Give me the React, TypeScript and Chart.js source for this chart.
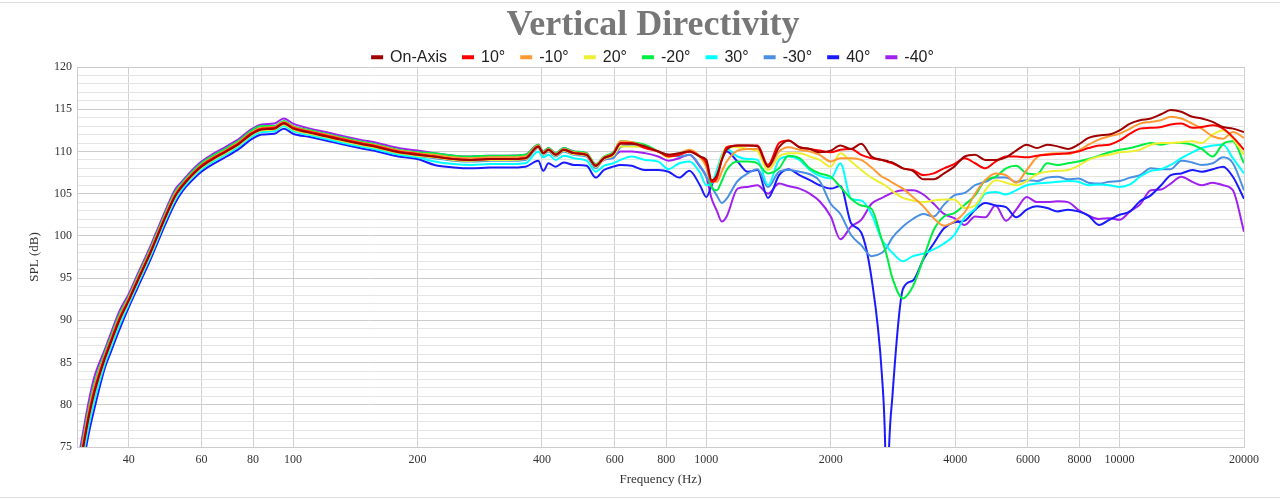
import React, { useEffect, useRef } from "react";
import { Chart, registerables } from "chart.js";

Chart.register(...registerables);

// Frequency grid (Hz)
const freqLow = [
  30, 31, 32, 33, 35, 36, 38, 40, 42, 45, 47, 49, 52, 54, 56, 60, 64, 69, 74, 79,
  84, 90, 95, 100, 110, 120, 130, 145, 160, 180, 200, 220, 245, 270, 300, 330, 365, 392, 403, 415,
  432, 452, 478, 513, 540, 565, 595, 620, 660, 710, 765, 810, 860, 910, 965,
];
const freqHigh = [
  1000, 1030, 1060, 1090, 1120, 1190, 1260, 1330, 1410, 1500,
  1580, 1680, 1780, 1880, 2000, 2110, 2240, 2370, 2510, 2660,
  2710, 2735, 2760, 2820, 2990, 3160, 3350, 3550, 3760, 3980,
  4220, 4470, 4730, 5010, 5310, 5620, 5960, 6310, 6680, 7080,
  7500, 7940, 8410, 8910, 9440, 10000, 10600, 11200, 11900, 12600,
  13300, 14100, 15000, 15800, 16800, 17800, 18800, 20000,
];

// SPL values (dB)
const onAxisLow = [
  70.8, 74.7, 78.4, 81.3, 85.4, 87.0, 90.0, 92.3, 94.6, 97.8,
  100.0, 102.1, 104.8, 105.9, 106.8, 108.2, 109.1, 110.0, 110.9, 112.0,
  112.6, 112.7, 113.3, 112.7, 112.2, 111.8, 111.4, 110.9, 110.5, 109.9,
  109.6, 109.4, 109.1, 109.0, 109.1, 109.1, 109.2, 110.6, 109.8, 110.2,
  109.6, 110.2, 109.8, 109.6, 108.3, 109.2, 109.7, 110.9, 110.9, 110.6,
  110.0, 109.6, 109.8, 110.0, 109.4,
];
const onAxisHigh = [
  109.0, 106.6, 107.2, 109.0, 110.2, 110.7, 110.7, 110.6, 108.2, 110.5,
  111.3, 110.5, 110.3, 109.9, 110.1, 110.7, 110.3, 110.9, 109.4, 109.0,
  108.9, 108.9, 108.8, 108.7, 108.0, 107.7, 106.7, 106.7, 107.4, 108.2,
  109.4, 109.6, 109.0, 109.0, 109.3, 110.1, 110.8, 110.4, 110.8, 110.6,
  110.3, 110.8, 111.6, 111.9, 112.0, 112.5, 113.3, 113.7, 113.9, 114.4,
  114.9, 114.7, 114.1, 113.9, 113.5, 112.9, 112.7, 112.3,
];

const p10Low = [
  71.1, 75.0, 78.7, 81.6, 85.6, 87.2, 90.2, 92.4, 94.7, 97.9,
  100.1, 102.2, 104.9, 106.0, 106.9, 108.3, 109.2, 110.1, 111.0, 112.1,
  112.7, 112.8, 113.4, 112.8, 112.3, 111.9, 111.5, 111.0, 110.6, 110.0,
  109.7, 109.4, 109.1, 109.0, 109.1, 109.1, 109.2, 110.6, 109.8, 110.2,
  109.6, 110.2, 109.8, 109.6, 108.3, 109.2, 109.7, 111.0, 111.0, 110.4,
  110.0, 109.4, 109.6, 110.0, 109.4,
];
const p10High = [
  108.6, 106.4, 106.8, 109.0, 110.5, 110.7, 110.7, 110.7, 108.4, 111.0,
  111.3, 110.5, 110.3, 110.1, 109.9, 110.2, 110.3, 109.6, 109.2, 109.0,
  108.9, 108.8, 108.7, 108.6, 108.0, 107.8, 107.2, 107.4, 108.0, 108.5,
  109.2, 108.6, 108.0, 108.8, 109.4, 109.4, 109.3, 109.5, 109.6, 109.7,
  109.8, 110.0, 110.4, 110.7, 110.8, 111.3, 112.1, 112.7, 112.8, 112.9,
  113.2, 113.3, 112.8, 112.9, 113.1, 112.7, 111.7, 110.2,
];

const m10Low = [
  71.5, 75.4, 79.1, 82.0, 85.8, 87.4, 90.4, 92.6, 94.9, 98.1,
  100.3, 102.4, 105.1, 106.1, 107.0, 108.4, 109.3, 110.2, 111.1, 112.2,
  112.8, 112.9, 113.5, 112.9, 112.4, 112.0, 111.6, 111.1, 110.7, 110.1,
  109.8, 109.6, 109.3, 109.2, 109.3, 109.3, 109.4, 110.7, 109.9, 110.3,
  109.7, 110.3, 109.9, 109.7, 108.4, 109.3, 109.8, 111.2, 111.1, 110.6,
  110.0, 109.6, 109.8, 110.2, 109.4,
];
const m10High = [
  108.2, 106.4, 106.4, 107.6, 108.8, 110.1, 110.3, 110.3, 108.1, 110.0,
  110.5, 110.2, 110.0, 109.6, 108.8, 109.2, 109.2, 109.0, 108.1, 107.0,
  106.8, 106.7, 106.6, 106.3, 105.6, 104.6, 103.5, 102.1, 101.2, 101.7,
  102.8, 105.0, 106.6, 107.4, 107.2, 106.3, 107.8, 109.3, 109.7, 109.8,
  109.7, 110.1, 110.8, 111.4, 111.8, 112.1, 112.7, 113.3, 113.5, 113.7,
  114.1, 113.9, 113.3, 112.7, 111.8, 111.5, 112.3, 111.6,
];

const p20Low = [
  70.7, 74.6, 78.3, 81.2, 85.3, 86.9, 89.9, 92.2, 94.5, 97.7,
  99.9, 102.0, 104.7, 105.9, 106.7, 108.1, 109.0, 109.9, 110.8, 111.9,
  112.5, 112.6, 113.2, 112.6, 112.1, 111.7, 111.3, 110.8, 110.4, 109.8,
  109.5, 109.3, 109.0, 108.9, 109.0, 109.0, 109.1, 110.5, 109.7, 110.1,
  109.5, 110.1, 109.7, 109.5, 108.2, 109.1, 109.5, 110.6, 110.6, 110.5,
  110.0, 109.3, 109.8, 110.0, 109.3,
];
const p20High = [
  108.2, 106.6, 107.2, 109.4, 110.5, 110.5, 110.3, 110.0, 107.8, 109.4,
  109.8, 109.8, 109.4, 109.0, 108.2, 109.8, 108.8, 107.8, 106.9, 106.2,
  106.0, 105.8, 105.7, 105.3, 104.5, 104.2, 104.0, 104.2, 104.3, 104.3,
  103.3, 103.6, 105.4, 106.6, 106.3, 106.0, 106.5, 107.3, 107.6, 107.7,
  107.8, 108.3, 109.0, 109.4, 109.6, 109.9, 110.0, 110.2, 110.8, 111.0,
  111.0, 111.1, 111.2, 111.0, 112.0, 112.5, 111.5, 109.6,
];

const m20Low = [
  71.9, 75.8, 79.5, 82.4, 86.1, 87.7, 90.7, 92.8, 95.1, 98.3,
  100.5, 102.6, 105.3, 106.3, 107.2, 108.6, 109.5, 110.4, 111.3, 112.4,
  113.0, 113.0, 113.6, 113.0, 112.5, 112.1, 111.7, 111.2, 110.8, 110.2,
  109.9, 109.8, 109.5, 109.4, 109.5, 109.5, 109.6, 110.8, 110.0, 110.4,
  109.8, 110.4, 110.0, 109.8, 108.5, 109.4, 109.9, 111.2, 111.1, 110.8,
  110.0, 109.4, 109.8, 110.0, 109.4,
];
const m20High = [
  108.2, 105.8, 105.4, 106.5, 107.8, 108.8, 108.8, 108.6, 107.4, 108.0,
  109.5, 109.2, 108.0, 107.4, 107.0, 105.8, 104.4, 103.6, 103.2, 99.5,
  98.3, 97.6, 96.8, 95.0, 92.6, 94.0, 97.3, 100.7, 102.3, 102.7,
  103.7, 104.8, 106.6, 107.0, 108.0, 108.3, 107.4, 107.3, 108.6, 108.4,
  108.6, 108.8, 109.1, 109.5, 109.9, 110.2, 110.4, 110.7, 111.0, 110.8,
  111.0, 111.0, 110.8, 110.3, 109.4, 110.9, 111.2, 108.6,
];

const p30Low = [
  69.8, 73.7, 77.4, 80.3, 84.8, 86.4, 89.4, 91.9, 94.2, 97.4,
  99.6, 101.7, 104.4, 105.6, 106.5, 107.9, 108.8, 109.7, 110.6, 111.7,
  112.3, 112.4, 113.0, 112.4, 111.9, 111.5, 111.1, 110.6, 110.2, 109.6,
  109.3, 108.8, 108.5, 108.4, 108.5, 108.5, 108.6, 110.0, 109.3, 109.6,
  109.0, 109.5, 109.2, 108.9, 107.6, 108.3, 108.6, 109.0, 109.4, 109.0,
  108.8, 107.9, 108.6, 108.8, 107.5,
];
const p30High = [
  106.0, 106.2, 107.8, 109.6, 110.3, 109.4, 109.1, 109.0, 106.0, 109.0,
  109.4, 109.0, 107.8, 107.1, 106.8, 108.6, 104.4, 104.2, 102.6, 99.5,
  99.0, 98.8, 98.5, 98.0, 97.0, 97.6, 97.9, 98.4, 99.1, 100.1,
  102.2, 103.2, 105.0, 105.2, 104.9, 105.4, 106.0, 106.2, 106.3, 106.4,
  106.5, 106.4, 106.0, 106.1, 106.0, 105.8, 106.1, 107.0, 107.7, 107.9,
  108.4, 109.2, 109.9, 110.4, 110.7, 110.8, 109.2, 107.4,
];

const m30Low = [
  70.2, 74.1, 77.8, 80.7, 85.0, 86.6, 89.6, 92.0, 94.3, 97.5,
  99.7, 101.9, 104.5, 105.7, 106.6, 108.0, 108.9, 109.8, 110.7, 111.8,
  112.4, 112.5, 113.1, 112.5, 112.0, 111.6, 111.2, 110.7, 110.3, 109.7,
  109.4, 109.2, 108.9, 108.8, 108.9, 108.9, 109.0, 110.4, 109.6, 110.0,
  109.4, 110.0, 109.6, 109.4, 108.0, 109.1, 109.2, 110.5, 110.8, 110.6,
  110.0, 109.6, 109.4, 109.6, 108.3,
];
const m30High = [
  107.0, 105.8, 104.8, 103.9, 104.4, 106.5, 107.4, 107.9, 105.8, 107.6,
  107.8, 107.6, 107.3, 106.5, 103.8, 102.6, 100.1, 98.9, 97.6, 98.0,
  98.4, 98.7, 99.0, 99.8, 101.1, 102.0, 102.6, 102.3, 103.7, 104.8,
  105.1, 106.0, 106.4, 106.9, 106.9, 106.4, 106.6, 106.5, 106.9, 107.0,
  106.7, 106.8, 106.3, 106.2, 106.4, 106.5, 106.9, 107.2, 108.0, 107.9,
  107.9, 108.9, 108.7, 108.4, 108.6, 109.3, 108.6, 105.4,
];

const p40Low = [
  68.9, 72.8, 76.5, 79.4, 84.3, 85.9, 88.9, 91.5, 93.8, 97.0,
  99.2, 101.3, 104.0, 105.3, 106.2, 107.6, 108.5, 109.4, 110.3, 111.4,
  112.0, 112.1, 112.7, 112.1, 111.7, 111.3, 110.9, 110.4, 110.0, 109.4,
  109.1, 108.4, 108.1, 108.0, 108.1, 108.1, 108.2, 108.9, 107.7, 108.6,
  108.2, 108.7, 108.4, 108.3, 106.9, 107.8, 108.2, 108.4, 108.3, 107.8,
  107.8, 107.6, 106.9, 107.7, 106.0,
];
const p40High = [
  104.6, 106.0, 107.4, 109.2, 110.0, 108.8, 107.6, 107.8, 104.5, 107.2,
  107.9, 107.2, 106.6, 106.0, 105.6, 105.9, 101.5, 100.4, 95.0, 83.5,
  74.8, 62.0, 73.0, 81.0, 93.7, 94.7, 97.2, 99.1, 100.9, 101.6,
  101.8, 103.1, 103.9, 103.6, 103.4, 102.2, 103.1, 103.5, 103.3, 102.9,
  103.1, 102.9, 102.4, 101.3, 101.9, 102.5, 102.9, 104.1, 104.8, 106.0,
  107.2, 107.4, 107.8, 107.6, 107.9, 108.2, 107.0, 104.4,
];

const m40Low = [
  72.7, 76.6, 80.3, 83.2, 86.5, 88.1, 91.1, 93.1, 95.4, 98.6,
  100.8, 102.9, 105.6, 106.5, 107.4, 108.8, 109.7, 110.6, 111.5, 112.6,
  113.2, 113.3, 113.9, 113.3, 112.7, 112.3, 111.9, 111.4, 111.0, 110.4,
  110.1, 109.8, 109.5, 109.4, 109.5, 109.5, 109.6, 110.8, 110.0, 110.4,
  109.8, 110.4, 110.0, 109.8, 108.3, 109.0, 109.3, 110.0, 110.0, 109.8,
  109.4, 108.9, 109.2, 109.6, 108.2,
];
const m40High = [
  107.0, 104.4, 103.0, 101.7, 102.3, 105.6, 105.8, 106.0, 105.0, 106.2,
  105.9, 105.6, 105.0, 104.1, 102.3, 99.6, 101.1, 101.9, 103.8, 104.5,
  104.7, 104.8, 104.9, 105.1, 105.4, 105.4, 104.9, 103.8, 102.6, 102.1,
  101.3, 102.3, 102.2, 103.6, 101.8, 103.1, 104.6, 104.0, 104.0, 104.1,
  104.0, 103.1, 102.4, 102.0, 102.1, 101.9, 102.9, 103.7, 105.4, 105.5,
  106.2, 107.0, 106.4, 106.0, 106.3, 106.0, 105.4, 100.5,
];

const seriesNames = ["On-Axis", "10°", "-10°", "20°", "-20°", "30°", "-30°", "40°", "-40°"];
const seriesColors = [
  "#a00000", "#ff0000", "#ff9933", "#eeee33", "#00ee44",
  "#00ffff", "#4a90e2", "#1a1aff", "#a020f0",
];
const xTickValues = [40, 60, 80, 100, 200, 400, 600, 800, 1000, 2000, 4000, 6000, 8000, 10000, 20000];

const SERIF = "'Liberation Serif', 'Times New Roman', serif";
const SANS = "'Liberation Sans', Arial, sans-serif";

export default function App() {
  const canvasRef = useRef<HTMLCanvasElement | null>(null);

  useEffect(() => {
    const freqs = [...freqLow, ...freqHigh];
    const series = [
      [...onAxisLow, ...onAxisHigh],
      [...p10Low, ...p10High],
      [...m10Low, ...m10High],
      [...p20Low, ...p20High],
      [...m20Low, ...m20High],
      [...p30Low, ...p30High],
      [...m30Low, ...m30High],
      [...p40Low, ...p40High],
      [...m40Low, ...m40High],
    ];
    const datasets = series.map((vals, i) => ({
      label: seriesNames[i],
      data: freqs.map((f, j) => ({ x: f, y: vals[j] })),
      borderColor: seriesColors[i],
      backgroundColor: seriesColors[i],
      borderWidth: 2,
      pointRadius: 0,
      pointHoverRadius: 0,
      cubicInterpolationMode: "monotone" as const,
      fill: false,
    }));

    const chart = new Chart(canvasRef.current as HTMLCanvasElement, {
      type: "line",
      data: { datasets },
      options: {
        responsive: false,
        animation: false,
        devicePixelRatio: 1,
        layout: { padding: { left: 26, right: 0, top: 0, bottom: 0 } },
        plugins: {
          title: {
            display: true,
            text: "Vertical Directivity",
            color: "#777777",
            font: { family: SERIF, size: 36, weight: "bold", lineHeight: 0.4 },
            padding: { top: 18.8, bottom: 0 },
          },
          legend: {
            display: true,
            position: "top",
            maxHeight: 33.8,
            labels: {
              boxWidth: 10,
              boxHeight: 2,
              padding: 16,
              color: "#222222",
              font: { family: SANS, size: 16 },
            },
          },
          tooltip: { enabled: false },
        },
        scales: {
          x: {
            type: "logarithmic",
            min: 30,
            max: 20000,
            afterBuildTicks: (scale: any) => {
              scale.ticks = xTickValues.map((v) => ({ value: v }));
            },
            afterFit: (scale: any) => {
              scale.height = 53;
            },
            ticks: {
              autoSkip: false,
              maxRotation: 0,
              padding: 6,
              color: "#333333",
              font: { family: SERIF, size: 12 },
              callback: (v: any) => String(v),
            },
            grid: { color: "#d0d0d0", drawTicks: false },
            border: { color: "#cccccc" },
            title: {
              display: true,
              text: "Frequency (Hz)",
              color: "#333333",
              font: { family: SERIF, size: 13 },
              padding: { top: 0, bottom: 13 },
            },
          },
          y: {
            min: 75,
            max: 120,
            afterFit: (scale: any) => {
              scale.width = 51;
            },
            ticks: {
              stepSize: 1,
              autoSkip: false,
              padding: 5,
              color: "#333333",
              font: { family: SERIF, size: 12 },
              callback: (v: any) => (Number(v) % 5 === 0 ? String(v) : ""),
            },
            grid: {
              drawTicks: false,
              color: (ctx: any) => (ctx.tick && ctx.tick.value % 5 === 0 ? "#cccccc" : "#e4e4e4"),
            },
            border: { color: "#cccccc" },
            title: {
              display: true,
              text: "SPL (dB)",
              color: "#333333",
              font: { family: SERIF, size: 13 },
              padding: { top: 1, bottom: 0 },
            },
          },
          yRight: {
            type: "linear",
            position: "right",
            display: true,
            afterFit: (scale: any) => {
              scale.width = 36;
            },
            grid: { display: false, drawTicks: false },
            ticks: { display: false },
            border: { display: false },
          },
        },
      } as any,
    });
    return () => chart.destroy();
  }, []);

  return (
    <div
      style={{
        position: "fixed",
        left: 0,
        top: 0,
        width: 1280,
        height: 500,
        overflow: "hidden",
        background: "#ffffff",
      }}
    >
      <canvas ref={canvasRef} width={1280} height={500} style={{ position: "absolute", left: 0, top: 0 }} />
      <div style={{ position: "absolute", left: 0, top: 2, width: 1280, height: 1, background: "#dddddd" }} />
      <div style={{ position: "absolute", left: 0, top: 497, width: 1280, height: 1, background: "#dddddd" }} />
    </div>
  );
}
